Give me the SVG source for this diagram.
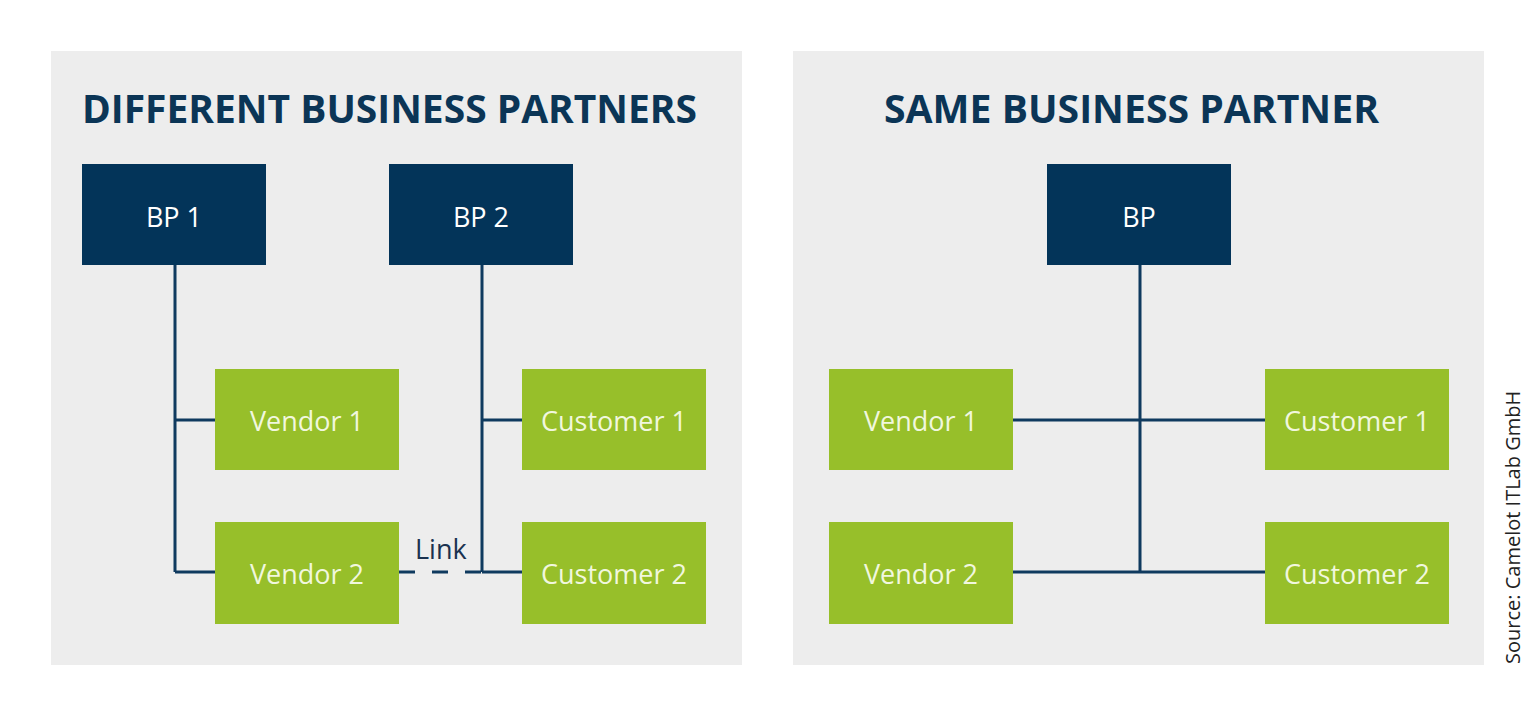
<svg xmlns="http://www.w3.org/2000/svg" width="1536" height="717" viewBox="0 0 1536 717">
  <style>
    .panel { fill: #EDEDED; }
    .title { font-family: "Open Sans", "Liberation Sans", sans-serif; font-weight: bold; font-size: 39px; fill: #0B3556; }
    .bp { fill: #033459; }
    .role { fill: #97BF2A; }
    .lbl { font-family: "Open Sans", "Liberation Sans", sans-serif; font-size: 27px; text-anchor: middle; dominant-baseline: central; }
    .lbl-bp { fill: #FFFFFF; }
    .lbl-role { fill: #F1F7DE; }
    .conn { stroke: #0F3A5F; stroke-width: 3; fill: none; }
    .dash { stroke-dasharray: 16 17; }
    .link { font-family: "Open Sans", "Liberation Sans", sans-serif; font-size: 27px; fill: #1A3250; }
    .src { font-family: "Open Sans", "Liberation Sans", sans-serif; font-size: 20px; fill: #222222; }
  </style>
  <rect width="1536" height="717" fill="#FFFFFF"/>

  <g id="panel-left">
    <rect class="panel" x="51" y="51" width="691" height="614"/>
    <text class="title" x="82" y="123" textLength="615" lengthAdjust="spacingAndGlyphs">DIFFERENT BUSINESS PARTNERS</text>
  </g>
  <g id="panel-right">
    <rect class="panel" x="793" y="51" width="691" height="614"/>
    <text class="title" x="884" y="123" textLength="495" lengthAdjust="spacingAndGlyphs">SAME BUSINESS PARTNER</text>
  </g>

  <g id="connectors">
    <path class="conn" d="M175 265 V572 M175 420 H215 M175 572 H215"/>
    <path class="conn" d="M482 265 V572 M482 420 H522 M482 572 H522"/>
    <path class="conn dash" d="M399 572 H482"/>
    <path class="conn" d="M1140 265 V572 M1013 420 H1265 M1013 572 H1265"/>
    <text class="link" x="415" y="559">Link</text>
  </g>

  <g id="bp1"><rect class="bp" x="82" y="164" width="184" height="101"/><text class="lbl lbl-bp" x="174" y="216">BP 1</text></g>
  <g id="bp2"><rect class="bp" x="389" y="164" width="184" height="101"/><text class="lbl lbl-bp" x="481" y="216">BP 2</text></g>
  <g id="l-vendor1"><rect class="role" x="215" y="369" width="184" height="101"/><text class="lbl lbl-role" x="307" y="420">Vendor 1</text></g>
  <g id="l-customer1"><rect class="role" x="522" y="369" width="184" height="101"/><text class="lbl lbl-role" x="614" y="420">Customer 1</text></g>
  <g id="l-vendor2"><rect class="role" x="215" y="522" width="184" height="102"/><text class="lbl lbl-role" x="307" y="573">Vendor 2</text></g>
  <g id="l-customer2"><rect class="role" x="522" y="522" width="184" height="102"/><text class="lbl lbl-role" x="614" y="573">Customer 2</text></g>

  <g id="bp"><rect class="bp" x="1047" y="164" width="184" height="101"/><text class="lbl lbl-bp" x="1139" y="216">BP</text></g>
  <g id="r-vendor1"><rect class="role" x="829" y="369" width="184" height="101"/><text class="lbl lbl-role" x="921" y="420">Vendor 1</text></g>
  <g id="r-customer1"><rect class="role" x="1265" y="369" width="184" height="101"/><text class="lbl lbl-role" x="1357" y="420">Customer 1</text></g>
  <g id="r-vendor2"><rect class="role" x="829" y="522" width="184" height="102"/><text class="lbl lbl-role" x="921" y="573">Vendor 2</text></g>
  <g id="r-customer2"><rect class="role" x="1265" y="522" width="184" height="102"/><text class="lbl lbl-role" x="1357" y="573">Customer 2</text></g>

  <text class="src" transform="translate(1520 664) rotate(-90)">Source: Camelot ITLab GmbH</text>
</svg>
